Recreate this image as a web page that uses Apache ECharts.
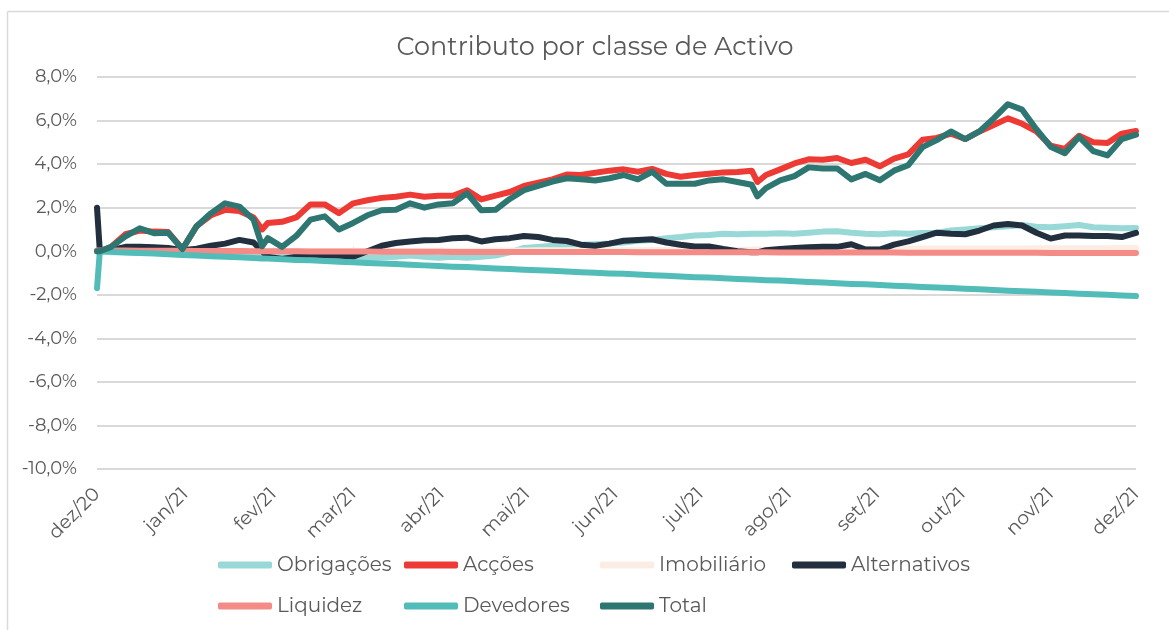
<!DOCTYPE html>
<html lang="pt">
	<head>
		<meta charset="UTF-8">
		<title>Contributo por classe de Activo</title>
		<style type="text/css">
			html,
			body,
			.canvas {
				padding: 0;
				margin: 0;
				overflow: hidden;
				background-color: #ffffff;
				width: 1169px;
				height: 630px;
			}
		</style>
	</head>
	<body>
		<div class="canvas" id="chart"></div>
		<script type="text/javascript" src="https://cdn.jsdelivr.net/npm/echarts@6/dist/echarts.min.js"></script>
		<script>
			// dias desde 1 dez 2020
			const days = [0, 1, 5, 10, 15, 20, 25, 30, 35, 40, 45, 50, 55, 58, 60, 65, 70, 75, 80, 85, 90, 95,
				100, 105, 110, 115, 120, 125, 130, 135, 140, 145, 150, 155, 160, 165, 170, 175, 180, 185, 190, 195,
				200, 205, 210, 215, 220, 225, 230, 232, 235, 240, 245, 250, 255, 260, 265, 270, 275, 280, 285, 290, 295,
				300, 305, 310, 315, 320, 325, 330, 335, 340, 345, 350, 355, 360, 365];

			const monthDays = [0, 31, 62, 90, 121, 151, 182, 212, 243, 274, 304, 335, 365];
			const monthLabels = ['dez/20', 'jan/21', 'fev/21', 'mar/21', 'abr/21', 'mai/21', 'jun/21',
				'jul/21', 'ago/21', 'set/21', 'out/21', 'nov/21', 'dez/21'];

			const obrigacoes = [0, 0, -0.05, -0.05, -0.08, -0.05, -0.05, -0.05, 0.0, -0.05, -0.1, -0.1, -0.15, -0.2, -0.2, -0.25, -0.2, -0.2, -0.2, -0.25, -0.25, -0.3,
				-0.28, -0.25, -0.2, -0.25, -0.3, -0.25, -0.3, -0.25, -0.2, -0.05, 0.15, 0.2, 0.25, 0.3, 0.3, 0.32, 0.35, 0.4, 0.48, 0.52,
				0.6, 0.65, 0.72, 0.75, 0.8, 0.78, 0.8, 0.8, 0.8, 0.82, 0.8, 0.85, 0.9, 0.92, 0.85, 0.8, 0.78, 0.82, 0.8, 0.84, 0.85,
				0.95, 1.0, 1.05, 1.1, 1.15, 1.2, 1.12, 1.1, 1.15, 1.2, 1.1, 1.08, 1.05, 1.07];

			const accoes = [0, 0, 0.2, 0.78, 0.95, 0.9, 0.88, 0.1, 1.15, 1.65, 1.9, 1.85, 1.55, 1.0, 1.3, 1.35, 1.55, 2.15, 2.15, 1.75, 2.2, 2.34,
				2.45, 2.5, 2.6, 2.5, 2.55, 2.55, 2.8, 2.38, 2.55, 2.72, 3.0, 3.15, 3.3, 3.52, 3.5, 3.6, 3.7, 3.76, 3.65, 3.78,
				3.55, 3.42, 3.5, 3.56, 3.62, 3.64, 3.7, 3.18, 3.5, 3.76, 4.03, 4.22, 4.2, 4.28, 4.05, 4.2, 3.9, 4.25, 4.45, 5.12, 5.2,
				5.4, 5.15, 5.5, 5.8, 6.1, 5.85, 5.5, 4.85, 4.7, 5.3, 5.0, 4.97, 5.4, 5.52];

			const imobiliario = [0, 0, 0, 0, 0, 0, 0, 0, 0, 0, 0, 0, 0, 0, 0, 0, 0, 0, 0, 0, 0, 0,
				0.01, 0.01, 0.01, 0.02, 0.02, 0.02, 0.02, 0.03, 0.03, 0.03, 0.03, 0.04, 0.04, 0.04, 0.04, 0.05, 0.05, 0.05, 0.05, 0.06,
				0.06, 0.06, 0.06, 0.07, 0.07, 0.07, 0.08, 0.08, 0.08, 0.08, 0.09, 0.09, 0.09, 0.1, 0.1, 0.1, 0.11, 0.11, 0.11, 0.12, 0.12,
				0.12, 0.12, 0.13, 0.13, 0.13, 0.13, 0.14, 0.14, 0.14, 0.14, 0.14, 0.14, 0.15, 0.15];

			const alternativos = [2.0, 0, 0.05, 0.2, 0.2, 0.18, 0.15, 0.05, 0.12, 0.25, 0.35, 0.52, 0.4, 0.0, -0.25, -0.35, -0.25, -0.15, -0.18, -0.2, -0.25, 0.0,
				0.25, 0.38, 0.45, 0.5, 0.52, 0.6, 0.62, 0.45, 0.55, 0.6, 0.7, 0.65, 0.52, 0.47, 0.3, 0.25, 0.35, 0.48, 0.52, 0.55,
				0.4, 0.3, 0.22, 0.22, 0.1, 0.0, -0.05, -0.05, 0.05, 0.1, 0.15, 0.18, 0.2, 0.2, 0.32, 0.08, 0.08, 0.3, 0.45, 0.65, 0.85,
				0.8, 0.78, 0.95, 1.18, 1.25, 1.18, 0.85, 0.58, 0.72, 0.72, 0.7, 0.7, 0.65, 0.84];

			const liquidez = [0.03, 0.03, 0.03, 0.03, 0.02, 0.02, 0.02, 0.02, 0.01, 0.01, 0.01, 0.01, 0.0, 0.0, 0.0, 0.0, 0.0, -0.01, -0.01, -0.01, -0.01, -0.01,
				-0.02, -0.02, -0.02, -0.02, -0.02, -0.03, -0.03, -0.03, -0.03, -0.03, -0.03, -0.04, -0.04, -0.04, -0.04, -0.04, -0.04, -0.04, -0.05, -0.05,
				-0.05, -0.05, -0.05, -0.05, -0.05, -0.05, -0.05, -0.05, -0.05, -0.06, -0.06, -0.06, -0.06, -0.06, -0.06, -0.06, -0.06, -0.06, -0.07, -0.07, -0.07,
				-0.07, -0.07, -0.07, -0.07, -0.07, -0.07, -0.07, -0.08, -0.08, -0.08, -0.08, -0.08, -0.08, -0.08];

			const devedores = [-1.7, 0, -0.03, -0.06, -0.08, -0.11, -0.14, -0.17, -0.2, -0.23, -0.25, -0.28, -0.31, -0.33, -0.34, -0.37, -0.4, -0.42, -0.45, -0.48, -0.51, -0.54,
				-0.56, -0.59, -0.62, -0.65, -0.68, -0.71, -0.73, -0.76, -0.79, -0.82, -0.85, -0.87, -0.9, -0.93, -0.96, -0.99, -1.02, -1.04, -1.07, -1.1,
				-1.13, -1.16, -1.19, -1.21, -1.24, -1.27, -1.3, -1.31, -1.33, -1.35, -1.38, -1.41, -1.44, -1.47, -1.5, -1.52, -1.55, -1.58, -1.61, -1.64, -1.67,
				-1.69, -1.72, -1.75, -1.78, -1.81, -1.84, -1.86, -1.89, -1.92, -1.95, -1.98, -2.0, -2.03, -2.06];

			const total = [0, 0, 0.2, 0.68, 1.05, 0.83, 0.85, 0.1, 1.15, 1.74, 2.2, 2.05, 1.45, 0.23, 0.6, 0.2, 0.7, 1.45, 1.6, 1.0, 1.3, 1.65,
				1.88, 1.9, 2.2, 2.0, 2.15, 2.2, 2.66, 1.88, 1.9, 2.4, 2.8, 3.0, 3.2, 3.35, 3.3, 3.25, 3.35, 3.5, 3.3, 3.65,
				3.1, 3.1, 3.1, 3.25, 3.3, 3.18, 3.05, 2.52, 2.9, 3.25, 3.45, 3.85, 3.8, 3.8, 3.3, 3.55, 3.26, 3.7, 3.95, 4.78, 5.1,
				5.5, 5.15, 5.5, 6.1, 6.75, 6.5, 5.6, 4.8, 4.5, 5.25, 4.6, 4.4, 5.15, 5.35];

			const yTicks = [-10, -8, -6, -4, -2, 0, 2, 4, 6, 8];

			const seriesNames = ['Obrigações', 'Acções', 'Imobiliário', 'Alternativos', 'Liquidez', 'Devedores', 'Total'];
			const seriesValues = [obrigacoes, accoes, imobiliario, alternativos, liquidez, devedores, total];
			const colors = ['#98D8D6', '#EE3A34', '#FBEDE3', '#212F3F', '#F58B86', '#52BCB8', '#2D7671'];

			const textColor = '#595959';
			const font = 'Montserrat, "Noto Sans", sans-serif';

			function pct(v) {
				return v.toFixed(1).replace('.', ',') + '%';
			}

			const chart = echarts.init(document.getElementById('chart'), null, { renderer: 'canvas' });

			const series = seriesNames.map(function(name, i) {
				return {
					name: name,
					type: 'line',
					xAxisIndex: 0,
					symbol: 'none',
					color: colors[i],
					lineStyle: { width: 6, color: colors[i], cap: 'round', join: 'round' },
					data: days.map(function(d, k) { return [d, seriesValues[i][k]]; })
				};
			});

			// legenda em colunas, como no original
			const legendCols = [
				{ left: 218, names: ['Obrigações', 'Liquidez'] },
				{ left: 404, names: ['Acções', 'Devedores'] },
				{ left: 600, names: ['Imobiliário', 'Total'] },
				{ left: 792, names: ['Alternativos'] }
			];
			const legends = legendCols.map(function(c) {
				return {
					left: c.left,
					top: 555,
					orient: 'vertical',
					itemGap: 21,
					itemWidth: 54,
					itemHeight: 7,
					icon: 'roundRect',
					padding: 0,
					selectedMode: false,
					textStyle: { color: textColor, fontSize: 20, fontFamily: font },
					data: c.names
				};
			});

			const xCommon = {
				type: 'value',
				min: 0,
				max: 365,
				splitLine: { show: false }
			};

			chart.setOption({
				animation: false,
				backgroundColor: '#ffffff',
				legend: legends,
				grid: { left: 97, right: 33, top: 77, bottom: 161 },
				xAxis: [
					Object.assign({}, xCommon, {
						position: 'bottom',
						axisLine: { show: false, onZero: false },
						axisTick: { show: false },
						axisLabel: {
							customValues: monthDays,
							rotate: 45,
							margin: 22,
							color: textColor,
							fontSize: 19,
							fontFamily: font,
							formatter: function(v) { return monthLabels[monthDays.indexOf(v)]; }
						}
					}),
					Object.assign({}, xCommon, {
						axisLine: { show: true, onZero: true, lineStyle: { color: '#D9D9D9', width: 2 } },
						axisTick: { show: true, customValues: monthDays, length: 4, lineStyle: { color: '#D9D9D9', width: 1 } },
						axisLabel: { show: false }
					})
				],
				yAxis: {
					type: 'value',
					min: -10,
					max: 8,
					interval: 2,
					axisLine: { show: false },
					axisTick: { show: false },
					axisLabel: {
						customValues: yTicks,
						color: textColor,
						fontSize: 18,
						fontFamily: font,
						margin: 20,
						formatter: pct
					},
					splitLine: { lineStyle: { color: '#D9D9D9', width: 2 } }
				},
				graphic: [
					{ type: 'line', shape: { x1: 7.5, y1: 11.5, x2: 1169, y2: 11.5 }, style: { stroke: '#D9D9D9', lineWidth: 1.5 } },
					{ type: 'line', shape: { x1: 7.5, y1: 11.5, x2: 7.5, y2: 630 }, style: { stroke: '#D9D9D9', lineWidth: 1.5 } },
					{
						type: 'text', x: 595, y: 47,
						style: {
							text: 'Contributo por classe de Activo', fill: textColor,
							font: '25.5px ' + font, textAlign: 'center', textVerticalAlign: 'middle'
						}
					}
				],
				series: series
			});
		</script>
	</body>
</html>
